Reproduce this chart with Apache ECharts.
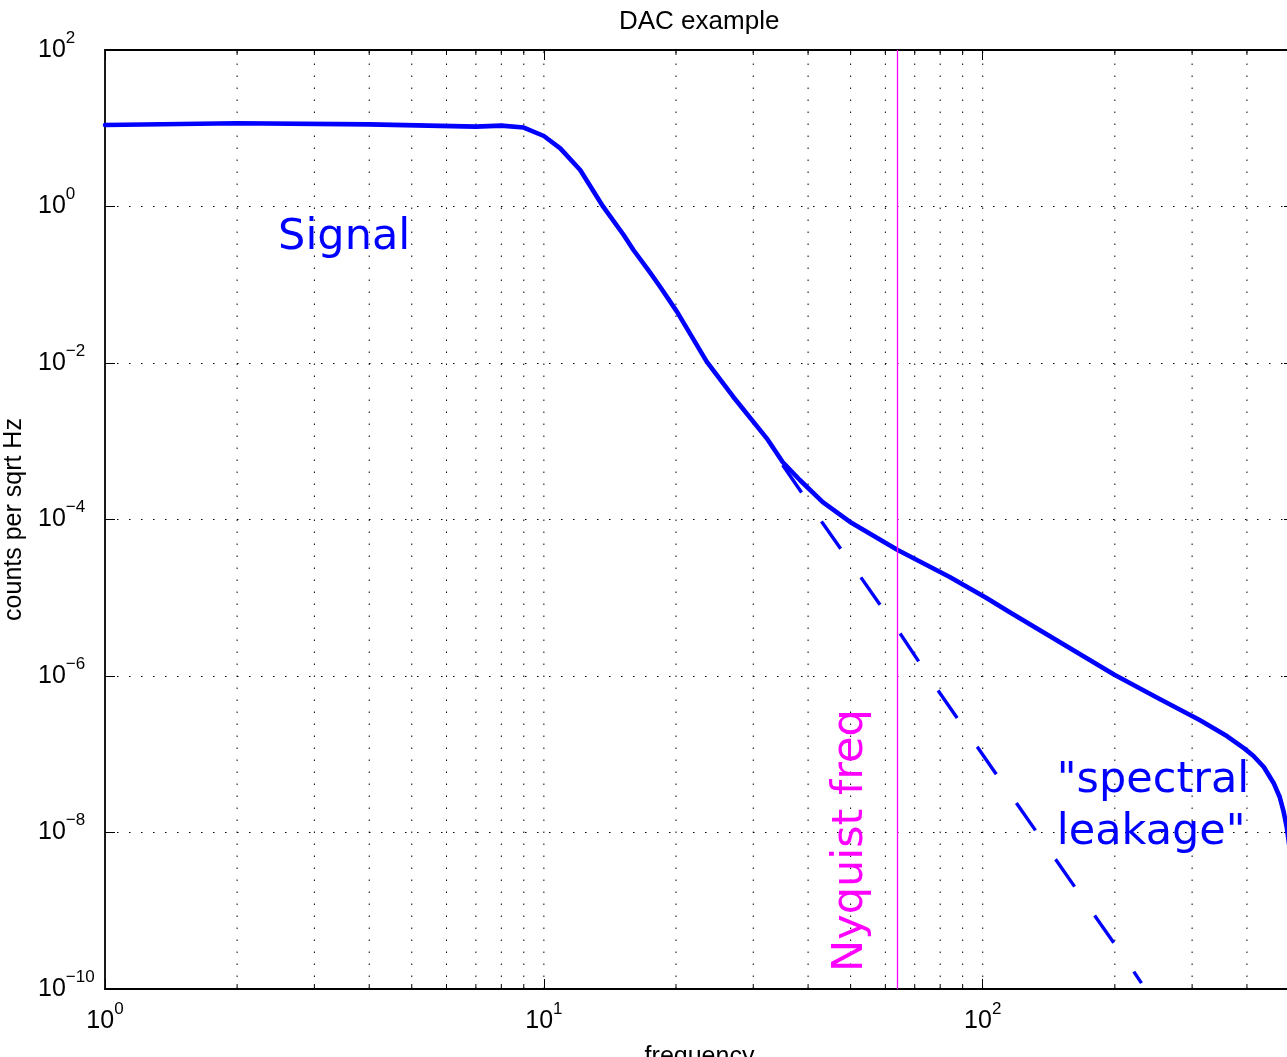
<!DOCTYPE html>
<html><head><meta charset="utf-8">
<script src="https://cdn.jsdelivr.net/npm/echarts@6/dist/echarts.min.js"></script>
<style>html,body{margin:0;padding:0;background:#fff}#c{width:1287px;height:1057px}</style>
</head><body><div id="c"></div>
<script>
// ---- data ----
const signalFreq = [1, 2, 4, 7, 8, 9, 10, 10.9, 12.1, 13.65, 15.2, 16.0, 17.4, 18.4, 20.1, 23.5, 27.0, 32.2, 35.0, 38.3, 43.2, 50.3, 64.0, 84.1, 102, 115, 200, 253, 312, 360, 395, 414, 437, 460, 475, 485, 493, 500, 505];
const signalAmp = [11.0, 11.6, 11.2, 10.5, 10.8, 10.2, 7.96, 5.54, 2.93, 0.994, 0.432, 0.278, 0.147, 0.0944, 0.0453, 0.0104, 0.00371, 0.00109, 5.43e-4, 3.2e-4, 1.67e-4, 9.0e-5, 4.07e-5, 1.84e-5, 9.93e-6, 6.58e-6, 1.03e-6, 5.08e-7, 2.74e-7, 1.71e-7, 1.18e-7, 9.5e-8, 6.87e-8, 4.3e-8, 2.84e-8, 1.83e-8, 1.16e-8, 6.5e-9, 3e-9];
const trueFreq = [35.0, 43.0, 52.7, 64.7, 79.0, 96.9, 118.9, 145.9, 178.9, 219.6, 230];
const trueAmp = [4.98e-4, 9.3e-5, 1.84e-5, 3.55e-6, 6.6e-7, 1.27e-7, 2.45e-8, 4.72e-9, 9.1e-10, 1.75e-10, 1.19e-10];
const nyquistFreq = 64;
const xGridValues = [2, 3, 4, 5, 6, 7, 8, 9, 10, 20, 30, 40, 50, 60, 70, 80, 90, 100, 200, 300, 400, 500];
const xMajorValues = [10, 100];
const xRange = [1, 512];
const yRange = [1e-10, 100];
const yDecadeStep = 2;
const titleText = 'DAC example';
const xName = 'frequency';
const yName = 'counts per sqrt Hz';
const annotationTexts = ['Signal', 'Nyquist freq', '"spectral\nleakage"'];
const annotationAnchors = [[2.48, 0.396], [50.0, 1.65e-10], [147.5, 2.15e-8]];

// ---- chart ----
const BLUE = '#0000ff', MAGENTA = '#ff00ff';
const TXT_FONT = 'Liberation Sans, Arial, sans-serif';
const ANN_FONT = 'DejaVu Sans, sans-serif';
const annStyles = [
  {color: BLUE, rotate: 0},
  {color: MAGENTA, rotate: Math.PI / 2},
  {color: BLUE, rotate: 0}
];

function powLabel(v) {
  const l = Math.log10(v);
  const e = Math.round(l);
  if (Math.abs(l - e) > 1e-6) return '';
  return '{b|10}{s|' + (e < 0 ? '\u2212' + (-e) : e) + '}';
}
const labelRich = {
  b: {fontSize: 25, lineHeight: 41, fontFamily: TXT_FONT, color: '#000'},
  s: {fontSize: 17, lineHeight: 17, verticalAlign: 'top', fontFamily: TXT_FONT, color: '#000'}
};
const DOT = [1.5, 10.5];

const chart = echarts.init(document.getElementById('c'), null, {renderer: 'canvas'});
const axisLineStyle = {show: true, onZero: false, lineStyle: {color: '#000', width: 1.8}};

chart.setOption({
  animation: false,
  backgroundColor: '#fff',
  title: {
    text: titleText, left: 619, top: 9, padding: 0,
    textStyle: {fontFamily: TXT_FONT, fontSize: 26, fontWeight: 'normal', color: '#000', lineHeight: 26}
  },
  grid: {left: 105, top: 50, right: -7, bottom: 68, containLabel: false, outerBoundsMode: 'none'},
  xAxis: [{
    type: 'log', logBase: 10, min: xRange[0], max: xRange[1], interval: 1,
    position: 'bottom',
    name: xName, nameLocation: 'middle', nameGap: 56,
    nameTextStyle: {fontFamily: TXT_FONT, fontSize: 25, color: '#000'},
    axisLine: axisLineStyle,
    axisTick: {show: true, inside: true, length: 10, lineStyle: {color: '#000', width: 1}},
    axisLabel: {show: true, margin: 12, formatter: powLabel, rich: labelRich, fontSize: 25, showMaxLabel: false, hideOverlap: false},
    splitLine: {show: false}, minorTick: {show: false}
  }, {
    type: 'log', logBase: 10, min: xRange[0], max: xRange[1], interval: 1,
    position: 'top',
    axisLine: axisLineStyle,
    axisTick: {show: true, inside: true, length: 10, lineStyle: {color: '#000', width: 1}},
    axisLabel: {show: false}, splitLine: {show: false}
  }],
  yAxis: [{
    type: 'log', logBase: 10, min: yRange[0], max: yRange[1], interval: yDecadeStep,
    position: 'left',
    name: yName, nameLocation: 'middle', nameGap: 74, nameRotate: 90,
    nameTextStyle: {fontFamily: TXT_FONT, fontSize: 25, color: '#000'},
    axisLine: axisLineStyle,
    axisTick: {show: true, inside: true, length: 10, lineStyle: {color: '#000', width: 1}},
    axisLabel: {show: true, margin: 67, align: 'left', formatter: powLabel, rich: labelRich, fontSize: 25},
    splitLine: {show: true, lineStyle: {color: '#000', width: 1, type: DOT}}
  }, {
    type: 'log', logBase: 10, min: yRange[0], max: yRange[1], interval: yDecadeStep,
    position: 'right',
    axisLine: axisLineStyle,
    axisTick: {show: true, inside: true, length: 10, lineStyle: {color: '#000', width: 1}},
    axisLabel: {show: false}, splitLine: {show: false}
  }],
  series: [
    {
      name: 'xgrid', type: 'custom', xAxisIndex: 0, yAxisIndex: 0, silent: true, z: 1,
      data: xGridValues.map(v => [v, 1]),
      renderItem: function (params, api) {
        const v = api.value(0);
        const x = api.coord([v, 1])[0];
        const cs = params.coordSys;
        const top = cs.y, bot = cs.y + cs.height;
        const children = [{
          type: 'line', shape: {x1: x, y1: bot, x2: x, y2: top},
          style: {stroke: '#000', lineWidth: 1, lineDash: DOT}
        }];
        if (xMajorValues.indexOf(v) < 0) {
          children.push({type: 'line', shape: {x1: x, y1: bot, x2: x, y2: bot - 5}, style: {stroke: '#000', lineWidth: 1}});
          children.push({type: 'line', shape: {x1: x, y1: top, x2: x, y2: top + 5}, style: {stroke: '#000', lineWidth: 1}});
        }
        return {type: 'group', children: children};
      }
    },
    {
      name: 'true signal', type: 'line', xAxisIndex: 0, yAxisIndex: 0, z: 3,
      data: trueFreq.map((f, i) => [f, trueAmp[i]]),
      symbol: 'none', smooth: false, clip: true,
      lineStyle: {color: BLUE, width: 3.4, type: [33.4, 35.1], cap: 'butt'}
    },
    {
      name: 'signal', type: 'line', xAxisIndex: 0, yAxisIndex: 0, z: 4,
      data: signalFreq.map((f, i) => [f, signalAmp[i]]),
      symbol: 'none', smooth: false, clip: true,
      lineStyle: {color: BLUE, width: 4.6, join: 'round', cap: 'round'},
      markLine: {
        silent: true, symbol: ['none', 'none'], animation: false,
        label: {show: false},
        lineStyle: {color: MAGENTA, width: 1.3, type: 'solid'},
        data: [{xAxis: nyquistFreq}]
      }
    },
    {
      name: 'annotations', type: 'custom', xAxisIndex: 0, yAxisIndex: 0, silent: true, z: 6,
      data: annotationAnchors,
      renderItem: function (params, api) {
        const i = params.dataIndex;
        const p = api.coord([api.value(0), api.value(1)]);
        const st = annStyles[i];
        return {
          type: 'text', x: p[0], y: p[1], rotation: st.rotate,
          style: {
            text: annotationTexts[i], fill: st.color,
            fontFamily: ANN_FONT, fontSize: 43, lineHeight: 52,
            align: 'left', verticalAlign: 'middle'
          }
        };
      }
    }
  ]
});
</script>
</body></html>
